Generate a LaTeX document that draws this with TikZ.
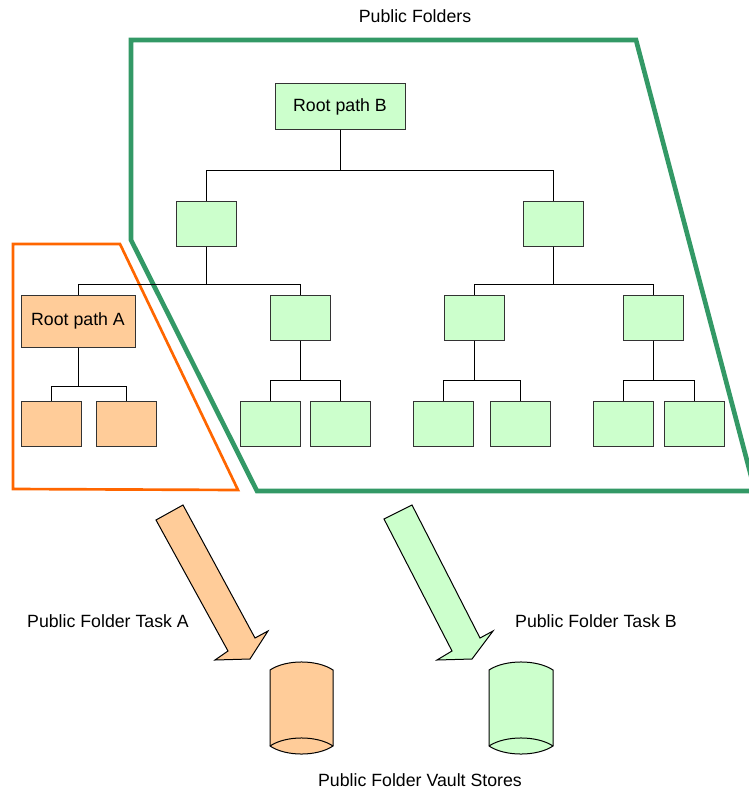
\documentclass[tikz,border=0pt]{standalone}
\usepackage{fontspec}
\setmainfont{Liberation Sans}
\definecolor{leafgreen}{HTML}{CCFFCC}
\definecolor{leaforange}{HTML}{FFCC99}
\definecolor{framegreen}{HTML}{339966}
\definecolor{frameorange}{HTML}{FF6600}
\definecolor{boxline}{HTML}{333333}
\begin{document}
\begin{tikzpicture}[x=0.75pt,y=-0.75pt,
  font=\fontsize{13.3}{15.5}\selectfont,
  gbox/.style={draw=boxline,line width=0.75pt,fill=leafgreen,minimum width=45pt,minimum height=33.75pt,inner sep=0pt},
  obox/.style={gbox,fill=leaforange},
  link/.style={draw=black,line width=0.75pt},
  blockarrow/.style={draw=black,line width=0.75pt,line join=miter},
  store/.style={draw=black,line width=0.75pt}]
\useasboundingbox (0,0) rectangle (749,792);

% scope outlines
\draw[framegreen,line width=3.5pt,line join=miter]
  (131,40) -- (636,40) -- (755,491) -- (257,491) -- (131,240) -- cycle;
\draw[frameorange,line width=2pt,line join=miter]
  (13,244) -- (120,244) -- (238,490) -- (13,489) -- cycle;

% folder tree
\node[gbox,minimum width=97.5pt] (rootB) at (340,106.5) {Root path B};
\node[gbox] (l1a) at (206,223.5) {};
\node[gbox] (l1b) at (553,223.5) {};

\node[obox,minimum width=85.5pt,minimum height=39pt] (rootA) at (78,321) {Root path A};
\node[gbox] (l2b) at (300,317.5) {};
\node[gbox] (l2c) at (474,317.5) {};
\node[gbox] (l2d) at (653,317.5) {};

\node[obox] (a1) at (51,423.5) {};
\node[obox] (a2) at (126,423.5) {};
\node[gbox] (b1) at (270,423.5) {};
\node[gbox] (b2) at (340,423.5) {};
\node[gbox] (c1) at (443,423.5) {};
\node[gbox] (c2) at (520,423.5) {};
\node[gbox] (d1) at (623,423.5) {};
\node[gbox] (d2) at (694,423.5) {};

\draw[link] (rootB.south) -- ++(0,41) -| (l1a.north);
\draw[link] (rootB.south) -- ++(0,41) -| (l1b.north);
\draw[link] (l1a.south) -- ++(0,38) -| (rootA.north);
\draw[link] (l1a.south) -- ++(0,38) -| (l2b.north);
\draw[link] (l1b.south) -- ++(0,38) -| (l2c.north);
\draw[link] (l1b.south) -- ++(0,38) -| (l2d.north);
\draw[link] (rootA.south) -- ++(0,39) -| (a1.north);
\draw[link] (rootA.south) -- ++(0,39) -| (a2.north);
\draw[link] (l2b.south) -- ++(0,40) -| (b1.north);
\draw[link] (l2b.south) -- ++(0,40) -| (b2.north);
\draw[link] (l2c.south) -- ++(0,40) -| (c1.north);
\draw[link] (l2c.south) -- ++(0,40) -| (c2.north);
\draw[link] (l2d.south) -- ++(0,40) -| (d1.north);
\draw[link] (l2d.south) -- ++(0,40) -| (d2.north);

% task arrows
\draw[blockarrow,fill=leaforange]
  (156,520) -- (183,505) -- (255,638) -- (268,631) -- (250,659)
  -- (215,660) -- (228,651) -- cycle;
\draw[blockarrow,fill=leafgreen]
  (384,519) -- (412,505) -- (480,638) -- (493,631) -- (472,659)
  -- (437,660) -- (452,651) -- cycle;

% vault stores
\draw[store,fill=leaforange]
  (270,670) .. controls (286,659.3) and (317,659.3) .. (333,670)
  -- (333,746) .. controls (317,756.7) and (286,756.7) .. (270,746) -- cycle;
\draw[store] (270,746) .. controls (286,735.3) and (317,735.3) .. (333,746);
\draw[store,fill=leafgreen]
  (489,670) .. controls (505,659.3) and (537,659.3) .. (553,670)
  -- (553,746) .. controls (537,756.7) and (505,756.7) .. (489,746) -- cycle;
\draw[store] (489,746) .. controls (505,735.3) and (537,735.3) .. (553,746);

% captions
\node (tPF) at (415,16) {Public Folders};
\node (tA) at (108,621) {Public Folder Task A};
\node (tB) at (596,621) {Public Folder Task B};
\node (tV) at (420,780) {Public Folder Vault Stores};
\end{tikzpicture}
\end{document}
